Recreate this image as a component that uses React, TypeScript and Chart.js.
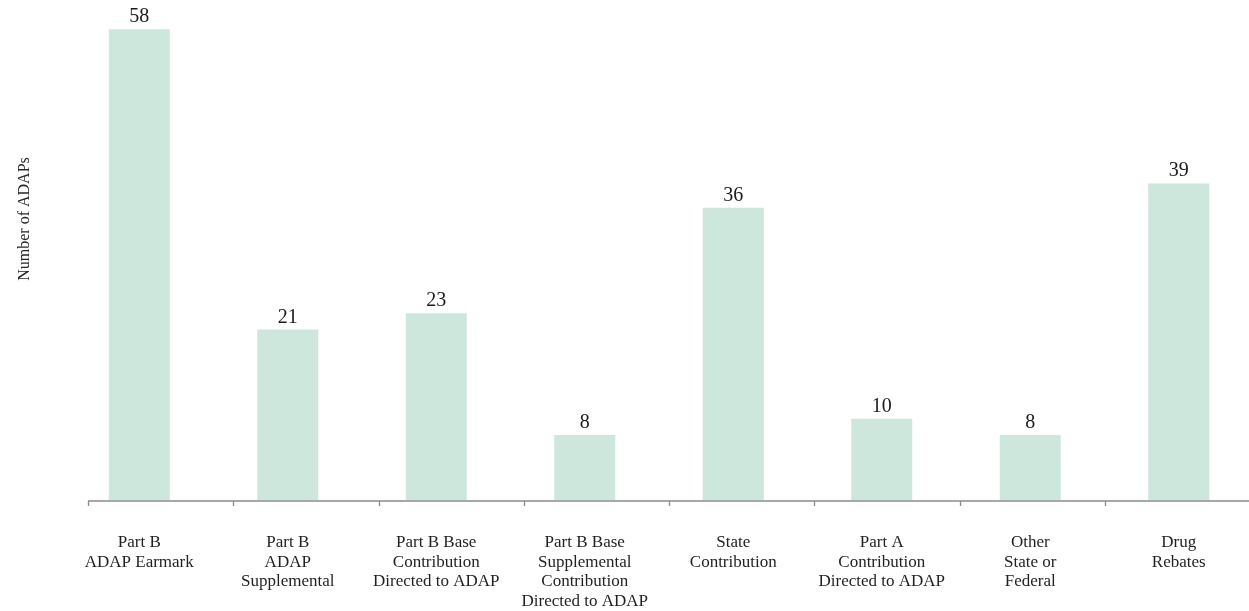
import React, { useEffect, useRef } from "react";
import { Chart, registerables } from "chart.js";

Chart.register(...registerables);

const categories: string[][] = [
  ["Part B", "ADAP Earmark"],
  ["Part B", "ADAP", "Supplemental"],
  ["Part B Base", "Contribution", "Directed to ADAP"],
  ["Part B Base", "Supplemental", "Contribution", "Directed to ADAP"],
  ["State", "Contribution"],
  ["Part A", "Contribution", "Directed to ADAP"],
  ["Other", "State or", "Federal"],
  ["Drug", "Rebates"],
];
const adapCounts: number[] = [58, 21, 23, 8, 36, 10, 8, 39];
const yAxisTitle = "Number of ADAPs";
const yMax = 60;

const SERIF = "'Liberation Serif', 'Times New Roman', serif";

const decorPlugin = {
  id: "decor",
  afterDatasetsDraw(chart: any) {
    const ctx = chart.ctx;
    const area = chart.chartArea;
    const meta = chart.getDatasetMeta(0);
    ctx.save();
    // value labels
    ctx.fillStyle = "#1a1a1a";
    ctx.font = `20px ${SERIF}`;
    ctx.textAlign = "center";
    ctx.textBaseline = "alphabetic";
    meta.data.forEach((bar: any, i: number) => {
      ctx.fillText(String(adapCounts[i]), bar.x, bar.y - 7);
    });
    // axis line with ticks
    const axisLeft = area.left + 23;
    const axisRight = area.right - 3;
    const y = area.bottom + 1;
    ctx.strokeStyle = "#8c8c8c";
    ctx.lineWidth = 1.3;
    ctx.beginPath();
    ctx.moveTo(axisLeft, y);
    ctx.lineTo(axisRight, y);
    const step = (axisRight - axisLeft) / categories.length;
    for (let k = 0; k < categories.length; k++) {
      const tx = Math.round(axisLeft + k * step) + 0.5;
      ctx.moveTo(tx, y);
      ctx.lineTo(tx, y + 5);
    }
    ctx.stroke();
    // y axis title
    ctx.translate(25, 219);
    ctx.rotate(-Math.PI / 2);
    ctx.fillStyle = "#262626";
    ctx.font = `16px ${SERIF}`;
    ctx.textAlign = "center";
    ctx.textBaseline = "middle";
    ctx.fillText(yAxisTitle, 0, 0);
    ctx.restore();
  },
};

export default function App() {
  const ref = useRef<HTMLCanvasElement | null>(null);
  useEffect(() => {
    document.body.style.margin = "0";
    document.body.style.overflow = "hidden";
    const canvas = ref.current;
    if (!canvas) return;
    const chart = new Chart(canvas, {
      type: "bar",
      data: {
        labels: categories,
        datasets: [
          {
            data: adapCounts,
            backgroundColor: "rgb(206,231,220)",
            borderWidth: 0,
            barPercentage: 0.411,
            categoryPercentage: 1,
          },
        ],
      },
      options: {
        animation: false,
        responsive: false,
        maintainAspectRatio: false,
        layout: { padding: { left: 65, right: 0, top: 13, bottom: 0 } },
        plugins: {
          legend: { display: false },
          tooltip: { enabled: false },
          title: { display: false },
        },
        scales: {
          x: {
            grid: { display: false, drawTicks: false },
            border: { display: false },
            afterFit(scale: any) {
              scale.height = 111;
            },
            ticks: {
              autoSkip: false,
              maxRotation: 0,
              minRotation: 0,
              padding: 33,
              color: "#1f1f1f",
              font: { family: SERIF, size: 17, lineHeight: 1.15 },
            },
          },
          y: {
            display: false,
            min: 0,
            max: yMax,
          },
        },
      },
      plugins: [decorPlugin],
    });
    return () => chart.destroy();
  }, []);
  return (
    <div style={{ width: 1249, height: 611, overflow: "hidden" }}>
      <canvas ref={ref} width={1253} height={611} style={{ display: "block" }} />
    </div>
  );
}
